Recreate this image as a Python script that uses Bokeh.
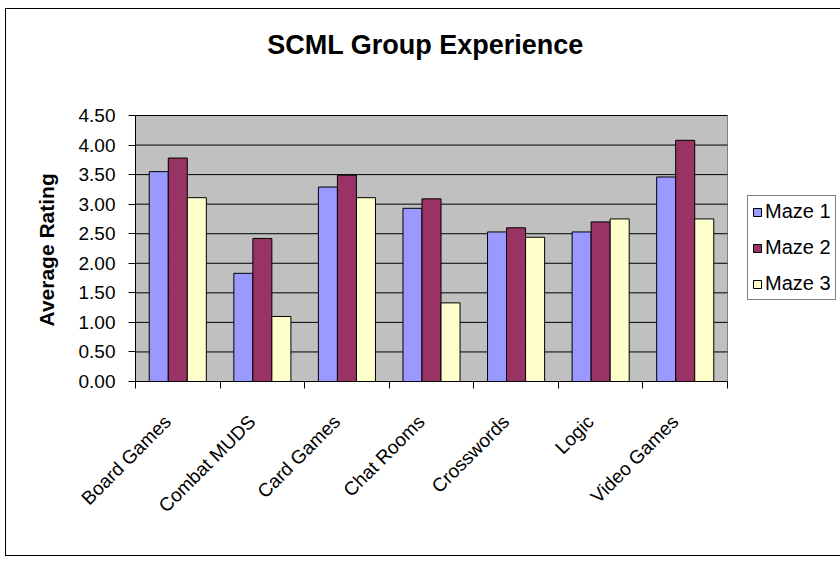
from math import pi

from bokeh.plotting import figure
from bokeh.models import (FixedTicker, Range1d, Legend, LegendItem, Label,
                          Title, NumeralTickFormatter)
from bokeh.embed import file_html
from bokeh.resources import INLINE

# Average rating per game genre for each maze
categories = ["Board Games", "Combat MUDS", "Card Games", "Chat Rooms",
              "Crosswords", "Logic", "Video Games"]
maze1 = [3.55, 1.83, 3.29, 2.93, 2.53, 2.53, 3.46]
maze2 = [3.78, 2.42, 3.49, 3.09, 2.60, 2.70, 4.08]
maze3 = [3.11, 1.10, 3.11, 1.33, 2.44, 2.75, 2.75]
series_names = ["Maze 1", "Maze 2", "Maze 3"]
series_colors = ["#9999FF", "#993366", "#FFFFCC"]
y_ticks = [0.0, 0.5, 1.0, 1.5, 2.0, 2.5, 3.0, 3.5, 4.0, 4.5]

FONT = "Liberation Sans"
N = len(categories)
Y_MAX = y_ticks[-1]

# page layout (pixels): outer chart border offset, plotting area box
OX, OY = 6, 9                  # figure origin inside the outer border
W, H = 834, 546                # figure size
AREA_L, AREA_R = 135, 727      # plot area left/right on the page
AREA_T, AREA_B = 115, 381      # plot area top/bottom on the page

# The frame spans everything right of the y axis and above the x axis, so
# the title and legend can live inside it; axes are bounded to the data area.
frame_w = W - (AREA_L - OX)
frame_h = AREA_B - OY
x_end = N * frame_w / (AREA_R - AREA_L)
y_end = Y_MAX * frame_h / (AREA_B - AREA_T)

p = figure(frame_width=frame_w, frame_height=frame_h, title=None,
           output_backend="svg", toolbar_location=None,
           x_range=Range1d(0, x_end), y_range=Range1d(0, y_end),
           min_border_left=AREA_L - OX, min_border_right=0,
           min_border_top=0, min_border_bottom=H - frame_h,
           background_fill_color="white", border_fill_color="white")
p.margin = (OY - 1, 0, 0, OX - 1)
p.styles = {"border-left": "1px solid black", "border-top": "1px solid black",
            "border-bottom": "1px solid black"}
p.outline_line_color = None

# grey plotting area with its grey top/right edge
p.quad(left=0, right=N, bottom=0, top=Y_MAX, fill_color="#C0C0C0",
       line_color="#808080", line_width=1, level="image")

# horizontal gridlines across the plotting area only
p.segment(x0=0, x1=N, y0=y_ticks[1:], y1=y_ticks[1:], line_color="black",
          line_width=1, level="underlay")
p.xgrid.visible = False
p.ygrid.visible = False

# bars, grouped around each category centre
bw = 0.225
renderers = []
for j, (vals, col) in enumerate(zip([maze1, maze2, maze3], series_colors)):
    xs = [i + 0.5 + (j - 1) * bw for i in range(N)]
    r = p.vbar(x=xs, top=vals, width=bw, bottom=0, fill_color=col,
               line_color="black", line_width=1)
    renderers.append(r)

# y axis
p.yaxis.bounds = (0, Y_MAX)
p.yaxis.ticker = FixedTicker(ticks=y_ticks)
p.yaxis.formatter = NumeralTickFormatter(format="0.00")
p.yaxis.major_tick_out = 7
p.yaxis.major_tick_in = 0
p.yaxis.minor_tick_out = 0
p.yaxis.axis_line_color = "black"
p.yaxis.major_label_text_font = FONT
p.yaxis.major_label_text_font_size = "19px"
p.yaxis.major_label_text_color = "black"
p.yaxis.major_label_standoff = 13

# y axis title, starting from the frame bottom and lifted to sit centred
# on the plotting area
p.add_layout(Title(text="Average Rating", align="left", offset=55,
                   text_font=FONT, text_font_size="21px",
                   text_font_style="bold", text_color="black",
                   standoff=35), "left")

# x axis: labels near category centres, tick marks at category boundaries
label_pos = [i + 0.5 - 0.12 for i in range(N)]
p.xaxis.bounds = (0, N)
p.xaxis.ticker = FixedTicker(ticks=label_pos, minor_ticks=list(range(N + 1)))
p.xaxis.major_label_overrides = {c: name for c, name in zip(label_pos, categories)}
p.xaxis.major_tick_out = 0
p.xaxis.major_tick_in = 0
p.xaxis.minor_tick_out = 7
p.xaxis.minor_tick_in = 0
p.xaxis.minor_tick_line_color = "black"
p.xaxis.axis_line_color = "black"
p.xaxis.major_label_orientation = pi / 4
p.xaxis.major_label_text_font = FONT
p.xaxis.major_label_text_font_size = "19px"
p.xaxis.major_label_text_color = "black"
p.xaxis.major_label_standoff = 30

# legend to the right of the plotting area (screen px from frame bottom-left)
legend = Legend(items=[LegendItem(label=n, renderers=[r])
                       for n, r in zip(series_names, renderers)],
                location=(747 - AREA_L, AREA_B - 300),
                label_text_font=FONT, label_text_font_size="20px",
                label_text_color="black", glyph_width=10, glyph_height=10,
                label_height=20, spacing=13, padding=4, label_standoff=3,
                border_line_color="black", border_line_width=1,
                background_fill_color="white", background_fill_alpha=1.0,
                margin=0)
p.add_layout(legend, "center")

# chart title
p.add_layout(Label(x=425 - AREA_L, y=AREA_B - 44, x_units="screen",
                   y_units="screen", text="SCML Group Experience",
                   text_font=FONT, text_font_size="27px",
                   text_font_style="bold", text_align="center",
                   text_baseline="middle", text_color="black"))

open("out.html", "w").write(file_html(p, INLINE))
